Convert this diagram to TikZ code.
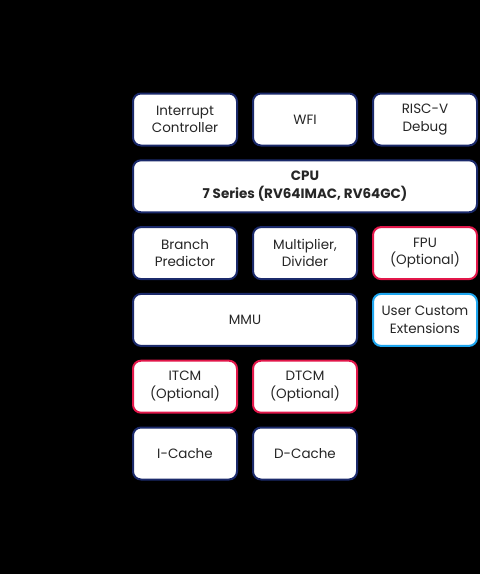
\documentclass[tikz,border=0pt]{standalone}
\usepackage{fontspec}
\setmainfont{Poppins}
\usetikzlibrary{positioning}
\definecolor{navy}{HTML}{1B2A6B}
\definecolor{optred}{HTML}{E2174A}
\definecolor{custblue}{HTML}{1EA5EE}

\begin{document}
\begin{tikzpicture}
        [
            x=1pt, y=-1pt,
            block/.style={draw=#1, fill=white, line width=2pt, rounded corners=8pt,
                          minimum width=104pt, minimum height=52pt, inner sep=1pt,
                          align=center, font=\fontsize{13.5}{17.5}\selectfont,
                          text=black!85},
            block/.default=navy,
            wide/.style={minimum width=#1},
            node distance=12.8pt and 14pt
        ]
        \fill[black] (0,0) rectangle (480,574);
        \useasboundingbox (0,0) rectangle (480,574);
        % top row
        \node (irq) [block] at (185,119.5) {Interrupt\\Controller};
        \node (wfi) [block,right=of irq] {WFI};
        \node (dbg) [block,right=of wfi] {RISC-V\\Debug};
        % core
        \node (cpu) [block,wide=344pt,below=of wfi] {\textbf{CPU}\\\textbf{7 Series (RV64IMAC, RV64GC)}};
        \node (bp)  [block,below=of cpu.south-|irq] [anchor=north] {Branch\\Predictor};
        \node (mul) [block,right=of bp] {Multiplier,\\Divider};
        \node (fpu) [block=optred,right=of mul] {FPU\\(Optional)};
        \node (mmu) [block,wide=224pt,below=of bp.south west,anchor=north west] {MMU};
        \node (uce) [block=custblue,right=of mmu] {User Custom\\Extensions};
        % memories
        \node (itcm) [block=optred,below=of mmu.south west,anchor=north west] {ITCM\\(Optional)};
        \node (dtcm) [block=optred,right=of itcm] {DTCM\\(Optional)};
        \node (ic)   [block,below=of itcm] {I-Cache};
        \node (dc)   [block,below=of dtcm] {D-Cache};
    \end{tikzpicture}
\end{document}
